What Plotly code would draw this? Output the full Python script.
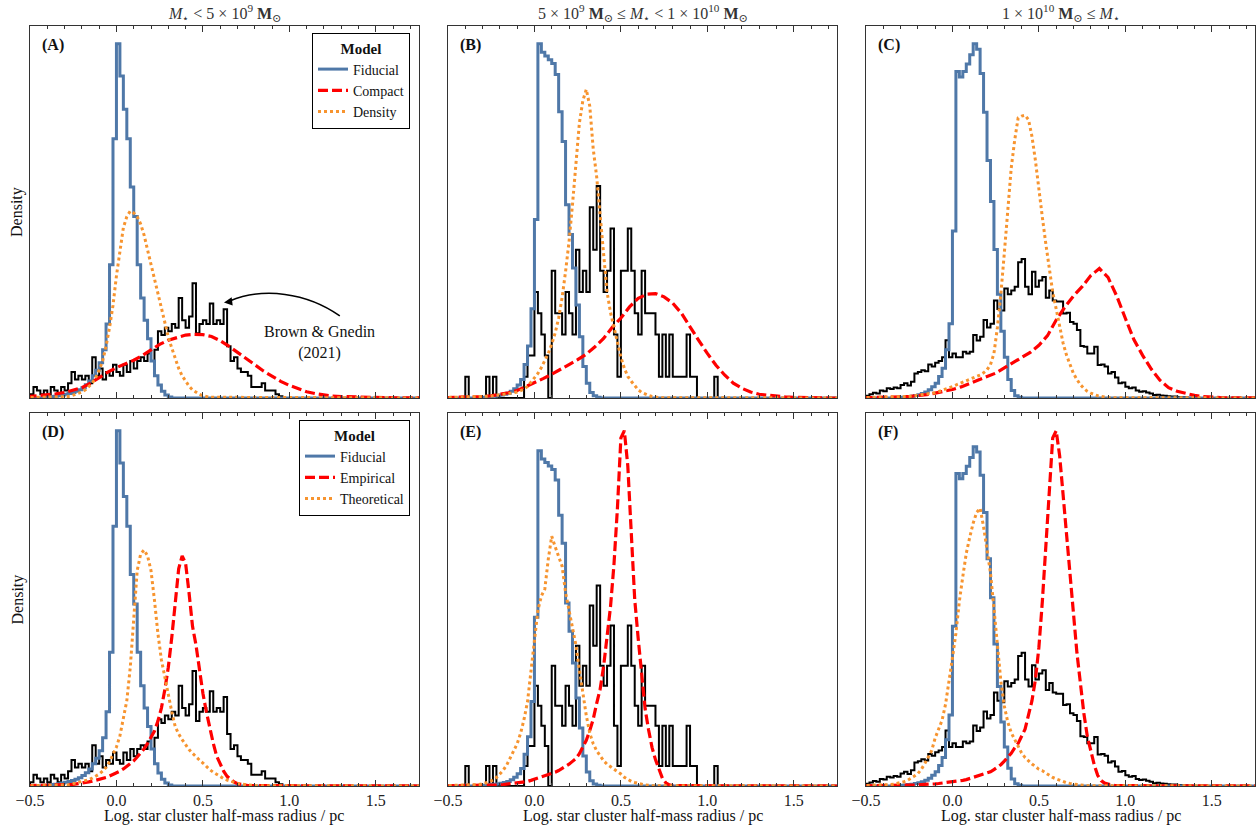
import plotly.graph_objects as go

FONT = "Liberation Serif, Times New Roman, DejaVu Serif, serif"
BLUE = "#4f78a8"
RED = "#ff0000"
ORANGE = "#f7942f"
BLACK = "#000000"
W = 0.02      # histogram bin width
WC = 0.05     # sample spacing of the broad "Compact" curves

# ---------------- Mass bin 1 : M* < 5e9 (panels A, D) ----------------
fid1_start = -0.40
fid1 = [0.003, 0.004, 0.005, 0.006, 0.008, 0.010, 0.012, 0.015, 0.018, 0.022, 0.028, 0.036,
        0.046, 0.060, 0.075, 0.095, 0.13, 0.20, 0.36, 0.70, 0.957, 0.87, 0.78, 0.70, 0.57, 0.49,
        0.36, 0.27, 0.21, 0.16, 0.10, 0.06, 0.035, 0.018, 0.008, 0.003]
obs1_start = -0.50
obs1 = [0.01, 0.03, 0.02, 0.01, 0.02, 0.01, 0.03, 0.02, 0.01, 0.03,
        0.02, 0.04, 0.07, 0.05, 0.06, 0.05, 0.06, 0.04, 0.11, 0.06,
        0.08, 0.05, 0.07, 0.06, 0.09, 0.07, 0.06, 0.09, 0.07, 0.10,
        0.08, 0.10, 0.11, 0.10, 0.12, 0.10, 0.13, 0.18, 0.17, 0.19,
        0.18, 0.20, 0.19, 0.27, 0.21, 0.19, 0.22, 0.31, 0.175, 0.20,
        0.21, 0.20, 0.255, 0.20, 0.21, 0.20, 0.24, 0.14, 0.10, 0.11,
        0.08, 0.07, 0.07, 0.06, 0.03, 0.03, 0.03, 0.04, 0.02, 0.02,
        0.02, 0.01, 0.005]
comp1_start = -0.50
comp1 = [0.004, 0.006, 0.008, 0.011, 0.015, 0.021, 0.028, 0.040, 0.055, 0.070, 0.082, 0.092,
         0.102, 0.115, 0.130, 0.145, 0.156, 0.164, 0.170, 0.172, 0.171, 0.166, 0.155, 0.140,
         0.124, 0.108, 0.090, 0.073, 0.058, 0.045, 0.034, 0.025, 0.017, 0.012, 0.008, 0.005,
         0.004, 0.003, 0.002, 0.0015, 0.001, 0.001, 0.0005, 0, 0, 0]
dens1_start = -0.30
dens1 = [0.002, 0.004, 0.006, 0.009, 0.012, 0.016, 0.022, 0.030, 0.040, 0.055, 0.075, 0.10,
         0.14, 0.19, 0.25, 0.33, 0.40, 0.46, 0.49, 0.505, 0.50, 0.49, 0.47, 0.44, 0.40, 0.36,
         0.32, 0.28, 0.24, 0.20, 0.165, 0.135, 0.105, 0.08, 0.06, 0.045, 0.032, 0.022, 0.015,
         0.010, 0.006, 0.004, 0.002]
emp1_start = -0.30
emp1 = [0.002, 0.003, 0.004, 0.005, 0.006, 0.007, 0.009, 0.011, 0.013, 0.015, 0.017, 0.020,
        0.023, 0.027, 0.031, 0.035, 0.040, 0.046, 0.053, 0.060, 0.068, 0.078, 0.089, 0.10,
        0.115, 0.13, 0.148, 0.175, 0.21, 0.26, 0.32, 0.40, 0.50, 0.585, 0.62, 0.60, 0.52, 0.43,
        0.38, 0.31, 0.25, 0.20, 0.155, 0.115, 0.08, 0.058, 0.04, 0.026, 0.017, 0.011, 0.006,
        0.004, 0.002, 0.001]
theo1_start = -0.30
theo1 = [0.002, 0.003, 0.005, 0.007, 0.009, 0.011, 0.014, 0.017, 0.021, 0.026, 0.032, 0.040,
         0.050, 0.065, 0.085, 0.105, 0.135, 0.18, 0.23, 0.32, 0.46, 0.58, 0.625, 0.636, 0.62,
         0.58, 0.50, 0.41, 0.34, 0.29, 0.25, 0.20, 0.16, 0.14, 0.125, 0.11, 0.098, 0.088, 0.078,
         0.07, 0.062, 0.052, 0.044, 0.037, 0.031, 0.025, 0.02, 0.016, 0.012, 0.01, 0.007, 0.005,
         0.004, 0.003, 0.002, 0.001]

# ---------------- Mass bin 2 : 5e9 <= M* < 1e10 (panels B, E) ----------------
fid2_start = -0.30
fid2 = [0.002, 0.003, 0.004, 0.005, 0.006, 0.008, 0.010, 0.013, 0.018, 0.025, 0.035, 0.05,
        0.09, 0.14, 0.24, 0.48, 0.953, 0.93, 0.92, 0.91, 0.90, 0.87, 0.77, 0.69, 0.52, 0.44,
        0.35, 0.25, 0.165, 0.085, 0.04, 0.015, 0.006, 0.002]
obs2_start = -0.50
obs2_counts = [0, 0, 0, 0, 0, 1, 0, 0, 0, 0,
               0, 1, 0, 1, 0, 0, 0, 0, 0, 0,
               0, 0, 1, 2, 2, 5, 4, 3, 2, 0,
               6, 4, 4, 3, 5, 4, 3, 7, 5, 6,
               5, 9, 7, 10, 6, 5, 6, 8, 3, 1,
               6, 6, 8, 6, 4, 3, 6, 4, 4, 4,
               3, 1, 3, 1, 3, 1, 1, 1, 1, 3,
               1, 1, 0, 0, 0, 0, 0, 1, 0]
obs2_unit = 0.057
comp2_start = -0.50
comp2 = [0.001, 0.001, 0.002, 0.003, 0.004, 0.006, 0.009, 0.014, 0.020, 0.030, 0.040, 0.052,
         0.064, 0.078, 0.090, 0.103, 0.118, 0.138, 0.160, 0.190, 0.215, 0.245, 0.268, 0.279,
         0.281, 0.272, 0.255, 0.228, 0.19, 0.155, 0.12, 0.088, 0.062, 0.040, 0.026, 0.016,
         0.010, 0.007, 0.004, 0.003, 0.002, 0.001, 0.001, 0, 0, 0]
dens2_start = -0.30
dens2 = [0.003, 0.004, 0.005, 0.006, 0.007, 0.008, 0.009, 0.010, 0.012, 0.014, 0.016, 0.019,
         0.024, 0.031, 0.042, 0.053, 0.066, 0.082, 0.10, 0.12, 0.145, 0.175, 0.215, 0.27, 0.34,
         0.42, 0.52, 0.62, 0.74, 0.80, 0.83, 0.785, 0.67, 0.595, 0.49, 0.38, 0.285, 0.23, 0.19,
         0.15, 0.11, 0.08, 0.058, 0.045, 0.032, 0.022, 0.015, 0.010, 0.007, 0.004, 0.002, 0.001]
emp2_start = -0.30
emp2 = [0.001, 0.0015, 0.002, 0.002, 0.003, 0.003, 0.004, 0.005, 0.006, 0.007, 0.008, 0.009,
        0.011, 0.013, 0.016, 0.019, 0.022, 0.025, 0.028, 0.031, 0.035, 0.039, 0.044, 0.050,
        0.055, 0.062, 0.070, 0.078, 0.092, 0.11, 0.13, 0.158, 0.19, 0.235, 0.275, 0.34, 0.42,
        0.51, 0.63, 0.79, 0.99, 1.01, 0.91, 0.72, 0.53, 0.42, 0.31, 0.22, 0.16, 0.11, 0.075,
        0.045, 0.022, 0.009, 0.003, 0.001]
theo2_start = -0.36
theo2 = [0.002, 0.003, 0.004, 0.006, 0.008, 0.012, 0.017, 0.024, 0.034, 0.045, 0.06, 0.08,
         0.10, 0.12, 0.15, 0.19, 0.24, 0.33, 0.42, 0.50, 0.54, 0.56, 0.645, 0.71, 0.68, 0.65,
         0.625, 0.55, 0.50, 0.46, 0.40, 0.33, 0.26, 0.20, 0.15, 0.12, 0.10, 0.085, 0.072, 0.062,
         0.055, 0.048, 0.043, 0.034, 0.025, 0.018, 0.013, 0.010, 0.007, 0.005, 0.003, 0.002, 0.001]

# ---------------- Mass bin 3 : 1e10 <= M* (panels C, F) ----------------
fid3_start = -0.30
fid3 = [0.002, 0.003, 0.004, 0.005, 0.007, 0.009, 0.012, 0.016, 0.022, 0.030, 0.040, 0.058,
        0.080, 0.13, 0.20, 0.45, 0.88, 0.865, 0.88, 0.90, 0.925, 0.955, 0.94, 0.875, 0.77, 0.64,
        0.53, 0.40, 0.28, 0.18, 0.11, 0.05, 0.02, 0.006, 0.002]
obs3_start = -0.50
obs3 = [0.006, 0.010, 0.014, 0.012, 0.020, 0.018, 0.026, 0.024, 0.028, 0.026,
        0.035, 0.040, 0.034, 0.044, 0.066, 0.070, 0.075, 0.072, 0.090, 0.085,
        0.095, 0.10, 0.11, 0.156, 0.11, 0.12, 0.11, 0.11, 0.125, 0.12,
        0.125, 0.17, 0.155, 0.165, 0.21, 0.19, 0.20, 0.263, 0.24, 0.236,
        0.295, 0.28, 0.29, 0.30, 0.366, 0.375, 0.30, 0.28, 0.34, 0.30,
        0.317, 0.326, 0.27, 0.29, 0.263, 0.26, 0.26, 0.228, 0.23, 0.205,
        0.20, 0.183, 0.14, 0.138, 0.12, 0.12, 0.138, 0.089, 0.09, 0.085,
        0.066, 0.07, 0.055, 0.04, 0.042, 0.03, 0.026, 0.028, 0.02, 0.017,
        0.018, 0.015, 0.012, 0.008, 0.009, 0.007, 0.006, 0.005, 0.004, 0.004,
        0.003, 0.002, 0.002, 0.001]
comp3_start = -0.50
comp3 = [0.0005, 0.001, 0.0015, 0.002, 0.003, 0.004, 0.006, 0.009, 0.013, 0.017, 0.023, 0.030,
         0.039, 0.049, 0.058, 0.067, 0.081, 0.095, 0.108, 0.123, 0.142, 0.168, 0.21, 0.245,
         0.275, 0.30, 0.33, 0.349, 0.325, 0.275, 0.215, 0.157, 0.115, 0.078, 0.048, 0.028,
         0.018, 0.012, 0.007, 0.004, 0.002, 0.001, 0.0005, 0, 0, 0]
dens3_start = -0.30
dens3 = [0.002, 0.003, 0.004, 0.005, 0.006, 0.007, 0.008, 0.009, 0.010, 0.012, 0.014, 0.017,
         0.020, 0.023, 0.027, 0.031, 0.035, 0.039, 0.042, 0.045, 0.049, 0.053, 0.057, 0.062,
         0.068, 0.076, 0.090, 0.12, 0.19, 0.28, 0.39, 0.515, 0.62, 0.695, 0.755, 0.76, 0.762,
         0.75, 0.705, 0.64, 0.555, 0.487, 0.416, 0.354, 0.285, 0.24, 0.19, 0.148, 0.115, 0.09,
         0.066, 0.05, 0.036, 0.026, 0.018, 0.013, 0.009, 0.006, 0.004, 0.002, 0.001]
emp3_start = -0.30
emp3 = [0.001, 0.0015, 0.002, 0.002, 0.003, 0.003, 0.004, 0.004, 0.005, 0.005, 0.006, 0.007,
        0.008, 0.009, 0.010, 0.011, 0.012, 0.014, 0.016, 0.018, 0.021, 0.023, 0.026, 0.029,
        0.032, 0.035, 0.040, 0.046, 0.053, 0.06, 0.07, 0.08, 0.092, 0.107, 0.12, 0.14, 0.16,
        0.20, 0.24, 0.30, 0.39, 0.52, 0.68, 0.84, 0.98, 1.0, 0.93, 0.82, 0.71, 0.60, 0.48,
        0.375, 0.29, 0.205, 0.14, 0.095, 0.06, 0.03, 0.015, 0.008, 0.005, 0.002, 0.001]
theo3_start = -0.40
theo3 = [0.002, 0.003, 0.004, 0.005, 0.007, 0.009, 0.012, 0.016, 0.021, 0.028, 0.035, 0.047,
         0.063, 0.080, 0.10, 0.135, 0.16, 0.185, 0.23, 0.29, 0.36, 0.43, 0.52, 0.59, 0.655,
         0.70, 0.74, 0.77, 0.782, 0.73, 0.66, 0.60, 0.50, 0.39, 0.295, 0.225, 0.18, 0.15, 0.13,
         0.11, 0.093, 0.08, 0.07, 0.062, 0.055, 0.047, 0.043, 0.036, 0.030, 0.024, 0.020, 0.016,
         0.012, 0.009, 0.007, 0.005, 0.004, 0.003, 0.002, 0.001]

obs2 = [c * obs2_unit for c in obs2_counts]

titles = [
    "<i>M</i><sub>⋆</sub> &lt; 5 × 10<sup>9</sup> <b>M</b><sub>⊙</sub>",
    "5 × 10<sup>9</sup> <b>M</b><sub>⊙</sub> ≤ <i>M</i><sub>⋆</sub> &lt; 1 × 10<sup>10</sup> <b>M</b><sub>⊙</sub>",
    "1 × 10<sup>10</sup> <b>M</b><sub>⊙</sub> ≤ <i>M</i><sub>⋆</sub>",
]
panel_labels = ["(A)", "(B)", "(C)", "(D)", "(E)", "(F)"]
xlabel = "Log. star cluster half-mass radius / pc"


def hist_xy(start, vals, w=W):
    n = len(vals)
    edges = [start + w * i for i in range(n + 1)]
    x = [-0.6] + edges[:n] + [edges[n], 1.8]
    y = [0.0] + list(vals) + [0.0, 0.0]
    return x, y


def curve_xy(start, vals, w=W):
    x = [-0.6] + [start + w * i for i in range(len(vals))] + [1.8]
    y = [0.0] + list(vals) + [0.0]
    return x, y


# panel definitions: (obs, fiducial, red, orange, red name, orange name, legend)
panels = [
    ((obs1_start, obs1), (fid1_start, fid1), (comp1_start, comp1, WC), (dens1_start, dens1, W), "Compact", "Density", "legend"),
    ((obs2_start, obs2), (fid2_start, fid2), (comp2_start, comp2, WC), (dens2_start, dens2, W), "Compact", "Density", None),
    ((obs3_start, obs3), (fid3_start, fid3), (comp3_start, comp3, WC), (dens3_start, dens3, W), "Compact", "Density", None),
    ((obs1_start, obs1), (fid1_start, fid1), (emp1_start, emp1, W), (theo1_start, theo1, W), "Empirical", "Theoretical", "legend2"),
    ((obs2_start, obs2), (fid2_start, fid2), (emp2_start, emp2, W), (theo2_start, theo2, W), "Empirical", "Theoretical", None),
    ((obs3_start, obs3), (fid3_start, fid3), (emp3_start, emp3, W), (theo3_start, theo3, W), "Empirical", "Theoretical", None),
]

FW, FH = 1258, 832
col_px = [(30, 419), (448, 837), (866, 1255)]
row_px = [(26, 398), (413, 786)]

fig = go.Figure()
layout = dict(
    width=FW, height=FH, autosize=False,
    margin=dict(l=0, r=0, t=0, b=0, pad=0, autoexpand=False),
    paper_bgcolor="white", plot_bgcolor="white",
    font=dict(family=FONT, size=16, color="#111"),
    annotations=[], shapes=[],
)

for i, (obs, fid, red, orn, rname, oname, leg) in enumerate(panels):
    r, c = divmod(i, 3)
    xa = "x" if i == 0 else f"x{i + 1}"
    ya = "y" if i == 0 else f"y{i + 1}"
    show = leg is not None
    lg = leg if leg else "legend"

    x, y = hist_xy(*obs)
    fig.add_trace(go.Scatter(x=x, y=y, mode="lines", line=dict(color=BLACK, width=2, shape="hv"),
                             showlegend=False, xaxis=xa, yaxis=ya, hoverinfo="skip"))
    x, y = hist_xy(*fid)
    fig.add_trace(go.Scatter(x=x, y=y, mode="lines", name="Fiducial",
                             line=dict(color=BLUE, width=3, shape="hv"),
                             showlegend=show, legend=lg, xaxis=xa, yaxis=ya, hoverinfo="skip"))
    x, y = curve_xy(*red)
    fig.add_trace(go.Scatter(x=x, y=y, mode="lines", name=rname,
                             line=dict(color=RED, width=3.2, dash="10px,4px"),
                             showlegend=show, legend=lg, xaxis=xa, yaxis=ya, hoverinfo="skip"))
    x, y = curve_xy(*orn)
    fig.add_trace(go.Scatter(x=x, y=y, mode="lines", name=oname,
                             line=dict(color=ORANGE, width=3, dash="3px,3px"),
                             showlegend=show, legend=lg, xaxis=xa, yaxis=ya, hoverinfo="skip"))

    ymax = 1.05 * max(max(obs[1]), max(fid[1]), max(red[1]), max(orn[1]))
    x0, x1 = col_px[c]
    t0, t1 = row_px[r]
    xdom = [x0 / FW, x1 / FW]
    ydom = [1 - t1 / FH, 1 - t0 / FH]
    layout["xaxis" if i == 0 else f"xaxis{i + 1}"] = dict(
        domain=xdom, anchor=ya, range=[-0.5, 1.75], showgrid=False, zeroline=False,
        automargin=False,
        showline=True, linecolor="#333", linewidth=1, mirror="ticks",
        ticks="inside", ticklen=6, tickwidth=1, tickcolor="#333",
        tickmode="linear", tick0=0, dtick=0.5, tickformat=".1f",
        showticklabels=(r == 1), tickfont=dict(size=16, family=FONT, color="#222"),
        minor=dict(tickmode="linear", tick0=0, dtick=0.1, ticks="inside", ticklen=3,
                   tickwidth=1, tickcolor="#333", showgrid=False),
    )
    layout["yaxis" if i == 0 else f"yaxis{i + 1}"] = dict(
        domain=ydom, anchor=xa, range=[0, ymax], showgrid=False, zeroline=False,
        automargin=False,
        showline=True, linecolor="#333", linewidth=1, mirror=True,
        ticks="", showticklabels=False,
    )
    # panel label
    layout["annotations"].append(dict(
        text=f"<b>{panel_labels[i]}</b>", xref=f"{xa} domain", yref=f"{ya} domain",
        x=10 / 389, y=1 - 19 / 372, xanchor="left", yanchor="middle", showarrow=False,
        font=dict(size=16, family=FONT, color="#111")))
    if r == 0:
        layout["annotations"].append(dict(
            text=titles[c], xref="paper", yref="paper", x=(x0 + x1) / 2 / FW, y=1 - 13 / FH,
            xanchor="center", yanchor="middle", showarrow=False,
            font=dict(size=16, family=FONT, color="#333")))
    else:
        layout["annotations"].append(dict(
            text=xlabel, xref="paper", yref="paper", x=(x0 + x1) / 2 / FW, y=1 - 816 / FH,
            xanchor="center", yanchor="middle", showarrow=False,
            font=dict(size=16, family=FONT, color="#111")))
    if c == 0:
        layout["annotations"].append(dict(
            text="Density", xref="paper", yref="paper", x=17 / FW, y=1 - (t0 + t1) / 2 / FH,
            xanchor="center", yanchor="middle", textangle=-90, showarrow=False,
            font=dict(size=16, family=FONT, color="#111")))

# Brown & Gnedin annotation (panel A, data coords)
layout["annotations"].append(dict(
    text="Brown &amp; Gnedin<br>(2021)", xref="x", yref="y", x=1.176, y=0.15,
    xanchor="center", yanchor="middle", showarrow=False,
    font=dict(size=16, family=FONT, color="#111")))
layout["shapes"].append(dict(
    type="path", xref="x", yref="y",
    path="M 1.292,0.222 C 1.10,0.285 0.85,0.300 0.655,0.262",
    line=dict(color="black", width=1.5)))
layout["annotations"].append(dict(
    text="", xref="x", yref="y", x=0.622, y=0.258, ax=8, ay=-1,
    showarrow=True, arrowhead=2, arrowsize=1.1, arrowwidth=1.5, arrowcolor="black"))

leg_common = dict(
    xanchor="right", yanchor="top", bgcolor="white", bordercolor="black", borderwidth=1,
    font=dict(size=14, family=FONT, color="#111"),
    title=dict(text="<b>Model</b>", side="top center", font=dict(size=15, family=FONT)),
    tracegroupgap=0, itemclick=False, itemdoubleclick=False,
)
layout["legend"] = dict(x=410 / FW, y=1 - 33 / FH, **leg_common)
layout["legend2"] = dict(x=410 / FW, y=1 - 420 / FH, **leg_common)

fig.update_layout(**layout)
fig.write_html("out.html", config={"displayModeBar": False},
               post_script="document.body.style.margin='0';document.body.style.overflow='hidden';")
